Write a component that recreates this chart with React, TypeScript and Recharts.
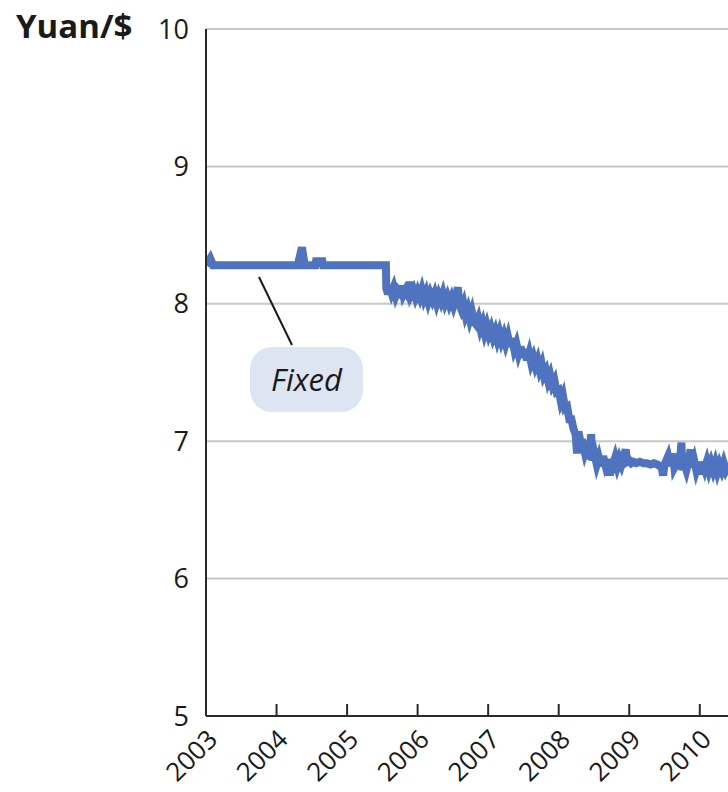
import React from "react"
import { LineChart, Line, XAxis, YAxis, CartesianGrid, ReferenceLine, ReferenceArea } from "recharts"

// dollar/yuan rate (year as decimal)
const fixedYears = [2003.0, 2003.06, 2003.1, 2004.3, 2004.36, 2004.4, 2004.55, 2004.56, 2004.65, 2004.66, 2005.55]
const fixedRates = [8.28, 8.33, 8.28, 8.28, 8.41, 8.28, 8.28, 8.31, 8.31, 8.28, 8.28]

const floatYears = [
  2005.556, 2005.58, 2005.6, 2005.63, 2005.66, 2005.69, 2005.72, 2005.75, 2005.78, 2005.8, 2005.83, 2005.86, 2005.89,
  2005.91, 2005.94, 2005.97, 2006.0, 2006.03, 2006.06, 2006.09, 2006.12, 2006.15, 2006.18, 2006.21, 2006.24, 2006.27,
  2006.3, 2006.33, 2006.36, 2006.39, 2006.42, 2006.45, 2006.48, 2006.51, 2006.54, 2006.57, 2006.59, 2006.62, 2006.65,
  2006.68, 2006.71, 2006.74, 2006.77, 2006.8, 2006.83, 2006.86, 2006.89, 2006.92, 2006.95, 2006.98, 2007.01, 2007.04,
  2007.07, 2007.1, 2007.13, 2007.16, 2007.19, 2007.22, 2007.25, 2007.28, 2007.31, 2007.34, 2007.37, 2007.4, 2007.43,
  2007.46, 2007.49, 2007.52, 2007.55, 2007.58, 2007.61, 2007.64, 2007.67, 2007.7, 2007.73, 2007.76, 2007.79, 2007.82,
  2007.85, 2007.88, 2007.91, 2007.94, 2007.97, 2008.0, 2008.03, 2008.06, 2008.09, 2008.12, 2008.15, 2008.18, 2008.21,
  2008.24, 2008.26, 2008.28, 2008.31, 2008.34, 2008.37, 2008.4, 2008.43, 2008.46, 2008.48, 2008.51, 2008.54, 2008.57,
  2008.6, 2008.63, 2008.66, 2008.69, 2008.72, 2008.74, 2008.77, 2008.8, 2008.83, 2008.86, 2008.89, 2008.92, 2008.95,
  2008.97, 2009.0, 2009.03, 2009.06, 2009.1, 2009.15, 2009.2, 2009.25, 2009.3, 2009.35, 2009.4, 2009.46, 2009.48,
  2009.5, 2009.55, 2009.58, 2009.62, 2009.64, 2009.68, 2009.71, 2009.74, 2009.75, 2009.78, 2009.81, 2009.84, 2009.87,
  2009.89, 2009.92, 2009.95, 2009.98, 2010.01, 2010.04, 2010.07, 2010.1, 2010.13, 2010.16, 2010.19, 2010.22, 2010.25,
  2010.28, 2010.31, 2010.34, 2010.37, 2010.4,
]
const floatRates = [
  8.11, 8.07, 8.13, 8.08, 8.12, 8.06, 8.1, 8.08, 8.13, 8.07, 8.1, 8.07, 8.16,
  8.07, 8.1, 8.05, 8.09, 8.05, 8.1, 8.04, 8.08, 8.02, 8.07, 8.03, 8.07, 8.01,
  8.06, 8.02, 8.07, 8.01, 8.05, 8.0, 8.04, 7.99, 8.04, 8.12, 8.0, 7.96, 8.0,
  7.92, 7.96, 7.89, 7.94, 7.87, 7.85, 7.89, 7.82, 7.86, 7.79, 7.84, 7.78, 7.82,
  7.76, 7.8, 7.74, 7.79, 7.73, 7.77, 7.71, 7.76, 7.69, 7.75, 7.67, 7.71, 7.64,
  7.69, 7.61, 7.67, 7.59, 7.64, 7.57, 7.61, 7.55, 7.59, 7.52, 7.56, 7.48, 7.51,
  7.44, 7.48, 7.41, 7.44, 7.36, 7.37, 7.29, 7.33, 7.24, 7.25, 7.16, 7.16, 7.09,
  7.05, 6.91, 7.07, 6.99, 6.99, 6.92, 6.97, 6.87, 7.05, 6.86, 6.9, 6.83, 6.88,
  6.82, 6.89, 6.83, 6.87, 6.75, 6.87, 6.83, 6.88, 6.82, 6.87, 6.83, 6.88, 6.94,
  6.85, 6.86, 6.84, 6.85, 6.84, 6.85, 6.84, 6.84, 6.83, 6.84, 6.83, 6.81, 6.75,
  6.83, 6.89, 6.82, 6.91, 6.81, 6.85, 6.81, 6.99, 6.79, 6.84, 6.79, 6.85, 6.94,
  6.81, 6.86, 6.79, 6.84, 6.76, 6.85, 6.8, 6.85, 6.79, 6.84, 6.79, 6.84, 6.78,
  6.83, 6.79, 6.84, 6.79, 6.82,
]

const yearTicks = [2003, 2004, 2005, 2006, 2007, 2008, 2009, 2010]
const rateTicks = [5, 6, 7, 8, 9, 10]

const data = [
  ...fixedYears.map((t, i) => ({ t, rate: fixedRates[i] })),
  ...floatYears.map((t, i) => ({ t, rate: floatRates[i] })),
]

const FONT = "'Open Sans', 'Noto Sans', sans-serif"
const BLUE = "#4f73bf"

function FixedBox(props: any) {
  const { x, y, width, height } = props
  return (
    <g>
      <rect x={x} y={y} width={width} height={height} rx={22} ry={22} fill="#dde5f3" />
      <text
        x={x + width / 2}
        y={y + height / 2 + 11}
        textAnchor="middle"
        fontFamily={FONT}
        fontStyle="italic"
        fontSize={31}
        fill="#1a1a1a"
      >
        Fixed
      </text>
    </g>
  )
}

export default function App() {
  return (
    <div style={{ position: "absolute", left: 0, top: 0, width: 728, height: 792, background: "#fff", fontFamily: FONT }}>
      <div
        style={{
          position: "absolute",
          left: 16,
          top: 9,
          fontSize: 33,
          fontWeight: 700,
          lineHeight: 1,
          color: "#1a1a1a",
        }}
      >
        Yuan/$
      </div>
      <LineChart width={728} height={792} data={data} margin={{ top: 29, right: 0, left: 0, bottom: 0 }}>
        <CartesianGrid vertical={false} stroke="#c8c8c8" strokeWidth={2} />
        <XAxis
          type="number"
          dataKey="t"
          domain={[2003, 2010.4]}
          ticks={yearTicks}
          allowDataOverflow
          height={76}
          stroke="#2a2a2a"
          strokeWidth={2}
          tickSize={-12}
          tickMargin={24}
          angle={-45}
          textAnchor="end"
          tick={{ fontSize: 26, fill: "#1a1a1a", fontFamily: FONT }}
          interval={0}
        />
        <YAxis
          type="number"
          domain={[5, 10]}
          ticks={rateTicks}
          width={206}
          stroke="#2a2a2a"
          strokeWidth={2}
          tickLine={false}
          tickSize={0}
          tickMargin={17}
          tick={{ fontSize: 27, fill: "#1a1a1a", fontFamily: FONT }}
          interval={0}
        />
        <ReferenceArea
          x1={2003.624}
          x2={2005.226}
          y1={7.212}
          y2={7.686}
          ifOverflow="visible"
          shape={<FixedBox />}
        />
        <ReferenceLine
          segment={[
            { x: 2003.751, y: 8.195 },
            { x: 2004.219, y: 7.7 },
          ]}
          stroke="#1a1a1a"
          strokeWidth={2}
          ifOverflow="visible"
        />
        <Line
          type="linear"
          dataKey="rate"
          stroke={BLUE}
          strokeWidth={8}
          dot={false}
          activeDot={false}
          isAnimationActive={false}
        />
      </LineChart>
    </div>
  )
}
